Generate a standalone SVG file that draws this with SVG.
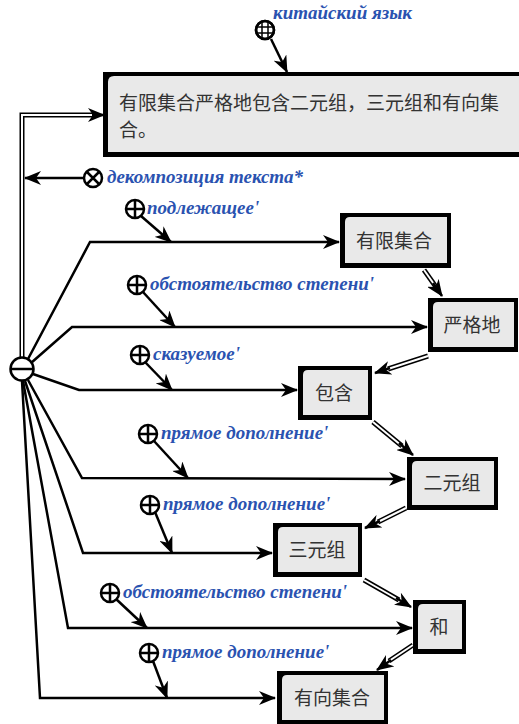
<svg xmlns="http://www.w3.org/2000/svg" width="519" height="724" viewBox="0 0 519 724">
<defs>
<marker id="ah" markerWidth="18" markerHeight="14" refX="16" refY="7" orient="auto" markerUnits="userSpaceOnUse">
<path d="M0,0 L17,7 L0,14 L5,7 z" fill="#000"/>
</marker>
<style>
.lbl{font-family:"Liberation Serif","Times New Roman",serif;font-weight:bold;font-style:italic;font-size:19px;fill:#2a52b0}
.cjk{font-family:"Noto Sans CJK SC","Noto Sans CJK JP",sans-serif;font-size:19px;fill:#333;text-anchor:middle}
.main{font-family:"Noto Sans CJK SC","Noto Sans CJK JP",sans-serif;font-size:19px;fill:#333}
.ln{fill:none;stroke:#000;stroke-width:2.5;marker-end:url(#ah)}
.dbo{fill:none;stroke:#000;stroke-width:5}
.dbi{fill:none;stroke:#fff;stroke-width:2}
.cir{fill:#fff;stroke:#000;stroke-width:2.5}
.cl{stroke:#000;stroke-width:2.5}
.box{fill:#000}
.inn{fill:#e9e9e9}
</style>
</defs>
<rect width="519" height="724" fill="#fff"/>

<g id="connectors">
<polyline class="dbo" points="22,357 22,115 95,115"/>
<polyline class="dbi" points="22,357 22,115 95,115"/>
<path class="ln" d="M92,115 L104,115"/>
<path class="ln" d="M84,178 L25,178"/>
<path class="ln" d="M271,39 L287,72"/>
<path class="ln" d="M28,359 L90,242 L339,242"/>
<path class="ln" d="M31,363 L72,327 L427,327"/>
<path class="ln" d="M33,374 L79,390 L297,390"/>
<path class="ln" d="M28,380 L82,478 L405,479"/>
<path class="ln" d="M25,381 L83,553 L272,553"/>
<path class="ln" d="M23,381 L68,628 L412,628"/>
<path class="ln" d="M22,381 L40,698 L275,698"/>
<path class="ln" d="M141,216 L171,242"/>
<path class="ln" d="M143,292 L175,327"/>
<path class="ln" d="M145,362 L172,390"/>
<path class="ln" d="M154,441 L188,478"/>
<path class="ln" d="M155,512 L172,553"/>
<path class="ln" d="M116,599 L147,628"/>
<path class="ln" d="M153,661 L167,698"/>
<g>
<path class="dbo" d="M424,270 L436,287"/><path class="dbi" d="M424,270 L436,287"/><path class="ln" d="M433,283 L442,296"/>
<path class="dbo" d="M428,356 L388,369"/><path class="dbi" d="M428,356 L388,369"/><path class="ln" d="M390,368 L375,373"/>
<path class="dbo" d="M373,422 L402,446"/><path class="dbi" d="M373,422 L402,446"/><path class="ln" d="M399,443 L413,455"/>
<path class="dbo" d="M406,508 L378,522"/><path class="dbi" d="M406,508 L378,522"/><path class="ln" d="M380,521 L365,528"/>
<path class="dbo" d="M364,580 L399,600"/><path class="dbi" d="M364,580 L399,600"/><path class="ln" d="M396,598 L411,607"/>
<path class="dbo" d="M413,645 L389,661"/><path class="dbi" d="M413,645 L389,661"/><path class="ln" d="M391,660 L377,670"/>
</g>
</g>

<g id="globe">
<circle class="cir" cx="265" cy="30" r="9"/>
<path d="M262,22 V38 M268,22 V38 M257,27 H273 M257,33 H273" stroke="#000" stroke-width="1.5"/>
<circle cx="265" cy="30" r="9" fill="none" stroke="#000" stroke-width="2.5"/>
<text class="lbl" x="273" y="19">китайский язык</text>
</g>

<g id="main">
<rect class="box" x="103" y="72" width="420" height="85"/>
<path class="inn" d="M110,76 H523 V152 H108 V82 Q108,76 114,76 z"/>
<text class="main" x="119" y="110">有限集合严格地包含二元组，三元组和有向集</text>
<text class="main" x="119" y="137">合。</text>
</g>

<g id="decomp">
<circle class="cir" cx="93" cy="178" r="9"/>
<path class="cl" d="M87,172 L99,184 M99,172 L87,184"/>
<text class="lbl" x="107" y="183">декомпозиция текста*</text>
</g>

<g id="minus">
<circle class="cir" cx="22" cy="369" r="11.5"/>
<path class="cl" d="M10.5,369 H33.5"/>
</g>

<g id="r1"><circle class="cir" cx="135" cy="209" r="9"/><path class="cl" d="M126,209 H144 M135,200 V218"/><text class="lbl" x="147" y="214">подлежащее'</text></g>
<g id="r2"><circle class="cir" cx="137" cy="285" r="9"/><path class="cl" d="M128,285 H146 M137,276 V294"/><text class="lbl" x="150" y="290">обстоятельство степени'</text></g>
<g id="r3"><circle class="cir" cx="140" cy="355" r="9"/><path class="cl" d="M131,355 H149 M140,346 V364"/><text class="lbl" x="153" y="360">сказуемое'</text></g>
<g id="r4"><circle class="cir" cx="148" cy="434" r="9"/><path class="cl" d="M139,434 H157 M148,425 V443"/><text class="lbl" x="161" y="439">прямое дополнение'</text></g>
<g id="r5"><circle class="cir" cx="150" cy="505" r="9"/><path class="cl" d="M141,505 H159 M150,496 V514"/><text class="lbl" x="163" y="510">прямое дополнение'</text></g>
<g id="r6"><circle class="cir" cx="110" cy="593" r="9"/><path class="cl" d="M101,593 H119 M110,584 V602"/><text class="lbl" x="123" y="598">обстоятельство степени'</text></g>
<g id="r7"><circle class="cir" cx="149" cy="653" r="9"/><path class="cl" d="M140,653 H158 M149,644 V662"/><text class="lbl" x="162" y="658">прямое дополнение'</text></g>

<g id="n1"><rect class="box" x="340" y="213" width="111" height="55"/><path class="inn" d="M347,217 H447 V263 H345 V222 Q345,217 350,217 z"/><text class="cjk" x="394" y="248">有限集合</text></g>
<g id="n2"><rect class="box" x="428" y="298" width="90" height="54"/><path class="inn" d="M435,302 H514 V347 H433 V307 Q433,302 438,302 z"/><text class="cjk" x="472" y="332">严格地</text></g>
<g id="n3"><rect class="box" x="298" y="366" width="74" height="54"/><path class="inn" d="M305,370 H368 V415 H303 V375 Q303,370 308,370 z"/><text class="cjk" x="334" y="400">包含</text></g>
<g id="n4"><rect class="box" x="407" y="457" width="91" height="53"/><path class="inn" d="M414,461 H494 V505 H412 V466 Q412,461 417,461 z"/><text class="cjk" x="452" y="490">二元组</text></g>
<g id="n5"><rect class="box" x="273" y="523" width="89" height="54"/><path class="inn" d="M280,527 H358 V572 H278 V532 Q278,527 283,527 z"/><text class="cjk" x="317" y="557">三元组</text></g>
<g id="n6"><rect class="box" x="413" y="600" width="53" height="54"/><path class="inn" d="M420,604 H462 V649 H418 V609 Q418,604 423,604 z"/><text class="cjk" x="439" y="634">和</text></g>
<g id="n7"><rect class="box" x="277" y="671" width="111" height="53"/><path class="inn" d="M284,675 H384 V720 H282 V680 Q282,675 287,675 z"/><text class="cjk" x="332" y="705">有向集合</text></g>
</svg>
